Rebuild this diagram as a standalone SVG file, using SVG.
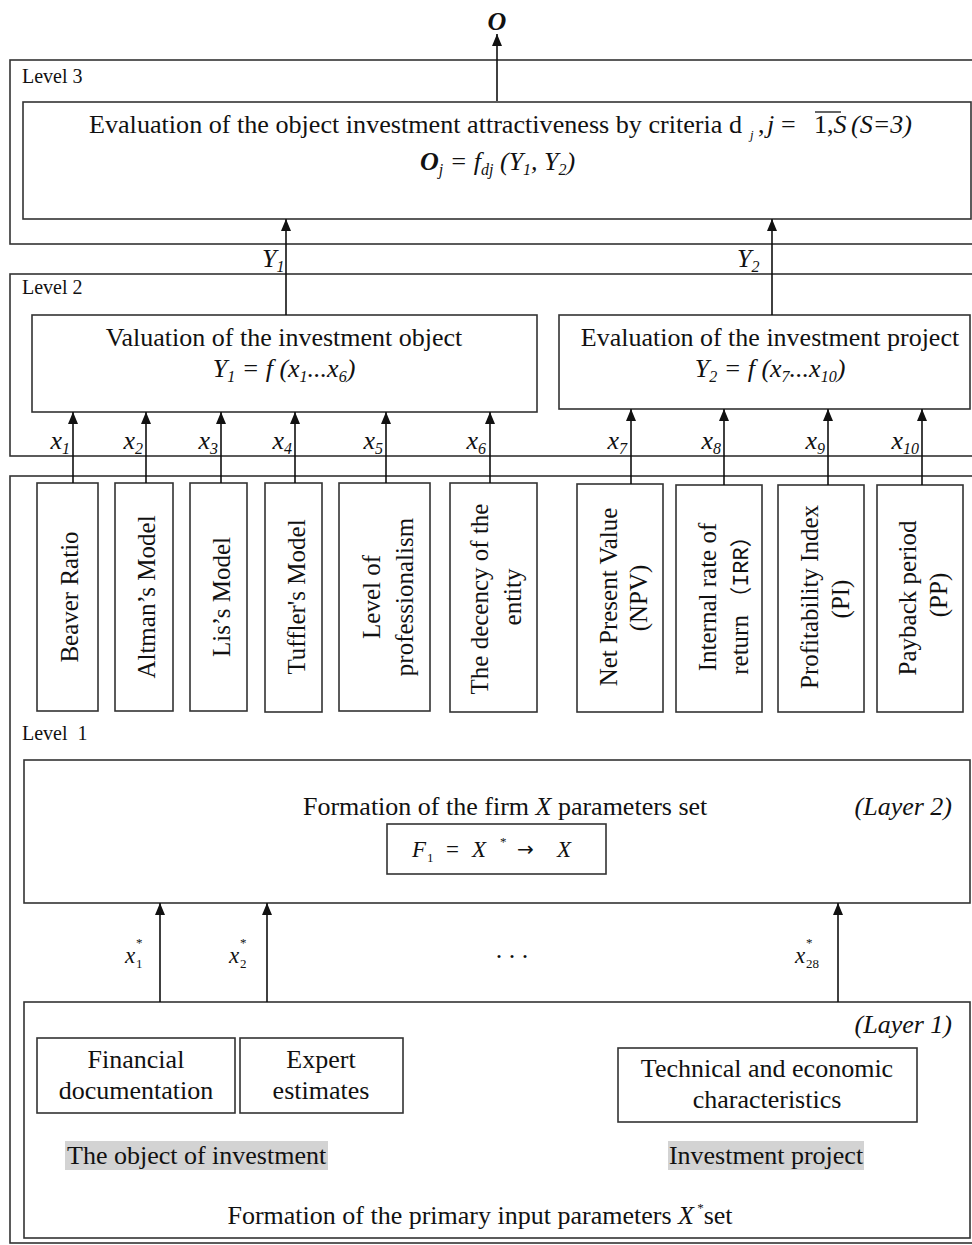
<svg xmlns="http://www.w3.org/2000/svg" width="972" height="1245" viewBox="0 0 972 1245">
<defs>
<marker id="ah" viewBox="0 0 12 10" refX="12" refY="5" markerWidth="12" markerHeight="10" markerUnits="userSpaceOnUse" orient="auto">
<path d="M0,0 L12,5 L0,10 z" fill="#111"/>
</marker>
<style>
.frame{fill:none;stroke:#333;stroke-width:1.6}
.box{fill:#fff;stroke:#333;stroke-width:1.6}
.t{font-family:"Liberation Serif","Times New Roman",serif;font-size:26px;fill:#111}
.i{font-style:italic}
.b{font-weight:bold}
.lv{font-size:20px}
.v{font-size:25px}
.s{font-size:16px}
.m{font-size:23px}
.sm{font-size:13px}
.arr{font-family:"DejaVu Sans",sans-serif;font-size:20px}
.hl{fill:#d3d3d3}
.conn line{stroke:#111;stroke-width:1.6;marker-end:url(#ah)}
</style>
</defs>
<rect width="972" height="1245" fill="#fff"/>

<!-- Level 3 -->
<g id="level3">
<rect class="frame" x="10" y="60" width="975" height="184"/>
<text class="t lv" x="22" y="83">Level 3</text>
</g>
<g id="eval-attractiveness">
<rect class="box" x="23" y="102" width="948" height="117"/>
<text class="t" x="89" y="133" textLength="653" lengthAdjust="spacingAndGlyphs">Evaluation of the object investment attractiveness by criteria d</text>
<text class="t i sm" x="750" y="139">j</text>
<text class="t" x="758" y="133">,</text>
<text class="t i" x="767" y="133">j</text>
<text class="t" x="781" y="133">=</text>
<text class="t" x="814" y="133">1,<tspan class="i">S</tspan></text>
<line x1="815" y1="112" x2="841" y2="112" stroke="#111" stroke-width="1.3"/>
<text class="t i" x="851" y="133">(S=3)</text>
<text class="t i" x="420" y="170"><tspan class="b">O</tspan><tspan class="s" dy="5">j</tspan><tspan dy="-5"> = f</tspan><tspan class="s" dy="5">dj</tspan><tspan dy="-5"> (Y</tspan><tspan class="s" dy="5">1</tspan><tspan dy="-5">,  Y</tspan><tspan class="s" dy="5">2</tspan><tspan dy="-5">)</tspan></text>
</g>
<text class="t i b" x="497" y="30" text-anchor="middle">O</text>
<text class="t i" x="262" y="267">Y<tspan class="s" dy="5">1</tspan></text>
<text class="t i" x="737" y="267">Y<tspan class="s" dy="5">2</tspan></text>

<!-- Level 2 -->
<g id="level2">
<rect class="frame" x="10" y="274" width="975" height="182"/>
<text class="t lv" x="22" y="294">Level 2</text>
</g>
<g id="valuation-object">
<rect class="box" x="32" y="315" width="505" height="97"/>
<text class="t" x="284" y="346" text-anchor="middle">Valuation of the investment object</text>
<text class="t i" x="284" y="377" text-anchor="middle">Y<tspan class="s" dy="5">1</tspan><tspan dy="-5"> = f (x</tspan><tspan class="s" dy="5">1</tspan><tspan dy="-5">...x</tspan><tspan class="s" dy="5">6</tspan><tspan dy="-5">)</tspan></text>
</g>
<g id="evaluation-project">
<rect class="box" x="559" y="315" width="411" height="94"/>
<text class="t" x="770" y="346" text-anchor="middle">Evaluation of the investment project</text>
<text class="t i" x="770" y="377" text-anchor="middle">Y<tspan class="s" dy="5">2</tspan><tspan dy="-5"> = f (x</tspan><tspan class="s" dy="5">7</tspan><tspan dy="-5">...x</tspan><tspan class="s" dy="5">10</tspan><tspan dy="-5">)</tspan></text>
</g>
<g id="x-labels">
<text class="t i" x="70" y="449" text-anchor="end">x<tspan class="s" dy="5">1</tspan></text>
<text class="t i" x="143" y="449" text-anchor="end">x<tspan class="s" dy="5">2</tspan></text>
<text class="t i" x="218" y="449" text-anchor="end">x<tspan class="s" dy="5">3</tspan></text>
<text class="t i" x="292" y="449" text-anchor="end">x<tspan class="s" dy="5">4</tspan></text>
<text class="t i" x="383" y="449" text-anchor="end">x<tspan class="s" dy="5">5</tspan></text>
<text class="t i" x="486" y="449" text-anchor="end">x<tspan class="s" dy="5">6</tspan></text>
<text class="t i" x="627" y="449" text-anchor="end">x<tspan class="s" dy="5">7</tspan></text>
<text class="t i" x="721" y="449" text-anchor="end">x<tspan class="s" dy="5">8</tspan></text>
<text class="t i" x="825" y="449" text-anchor="end">x<tspan class="s" dy="5">9</tspan></text>
<text class="t i" x="919" y="449" text-anchor="end">x<tspan class="s" dy="5">10</tspan></text>
</g>

<!-- Level 1 -->
<g id="level1">
<rect class="frame" x="10" y="476" width="975" height="767"/>
<text class="t lv" x="22" y="740" xml:space="preserve">Level  1</text>
</g>
<g id="beaver">
<rect class="box" x="37" y="483" width="61" height="228"/>
<text class="t v" transform="translate(78,597) rotate(-90)" text-anchor="middle">Beaver Ratio</text>
</g>
<g id="altman">
<rect class="box" x="115" y="483" width="58" height="228"/>
<text class="t v" transform="translate(155,597) rotate(-90)" text-anchor="middle">Altman’s Model</text>
</g>
<g id="lis">
<rect class="box" x="190" y="483" width="57" height="228"/>
<text class="t v" transform="translate(230,597) rotate(-90)" text-anchor="middle">Lis’s Model</text>
</g>
<g id="tuffler">
<rect class="box" x="265" y="483" width="57" height="229"/>
<text class="t v" transform="translate(305,597) rotate(-90)" text-anchor="middle">Tuffler's Model</text>
</g>
<g id="professionalism">
<rect class="box" x="339" y="483" width="91" height="228"/>
<text class="t v" transform="translate(380,597) rotate(-90)" text-anchor="middle">Level of</text>
<text class="t v" transform="translate(413,597) rotate(-90)" text-anchor="middle">professionalism</text>
</g>
<g id="decency">
<rect class="box" x="450" y="483" width="87" height="229"/>
<text class="t v" transform="translate(488,599) rotate(-90)" text-anchor="middle">The decency of the</text>
<text class="t v" transform="translate(521,597) rotate(-90)" text-anchor="middle">entity</text>
</g>
<g id="npv">
<rect class="box" x="577" y="484" width="86" height="228"/>
<text class="t v" transform="translate(617,597) rotate(-90)" text-anchor="middle">Net Present Value</text>
<text class="t v" transform="translate(647,598) rotate(-90)" text-anchor="middle">(NPV)</text>
</g>
<g id="irr">
<rect class="box" x="676" y="485" width="86" height="227"/>
<text class="t v" transform="translate(716,597) rotate(-90)" text-anchor="middle">Internal rate of</text>
<text class="t v" transform="translate(748,600) rotate(-90)" text-anchor="middle">return <tspan style="font-size:22px;font-family:'Liberation Mono','Noto Sans CJK SC',monospace">（IRR）</tspan></text>
</g>
<g id="pi">
<rect class="box" x="778" y="485" width="86" height="227"/>
<text class="t v" transform="translate(818,597) rotate(-90)" text-anchor="middle">Profitability Index</text>
<text class="t v" transform="translate(849,599) rotate(-90)" text-anchor="middle">(PI)</text>
</g>
<g id="pp">
<rect class="box" x="877" y="485" width="86" height="227"/>
<text class="t v" transform="translate(916,598) rotate(-90)" text-anchor="middle">Payback period</text>
<text class="t v" transform="translate(947,595) rotate(-90)" text-anchor="middle">(PP)</text>
</g>

<g id="layer2">
<rect class="box" x="24" y="760" width="946" height="143"/>
<text class="t" x="303" y="815">Formation of the firm <tspan class="i">X</tspan> parameters set</text>
<text class="t i" x="952" y="815" text-anchor="end">(Layer 2)</text>
<rect class="box" x="387" y="824" width="219" height="50"/>
<text class="t i m" x="412" y="857">F</text>
<text class="t sm" x="427" y="862">1</text>
<text class="t m" x="446" y="857">=</text>
<text class="t i m" x="472" y="857">X</text>
<text class="t sm" x="500" y="846">*</text>
<text class="t arr" x="517" y="856">→</text>
<text class="t i m" x="557" y="857">X</text>
</g>
<g id="xstar-labels">
<text class="t i m" x="125" y="963">x</text><text class="t sm" x="136" y="947">*</text><text class="t sm" x="136" y="968">1</text>
<text class="t i m" x="229" y="963">x</text><text class="t sm" x="240" y="947">*</text><text class="t sm" x="240" y="968">2</text>
<text class="t" x="512" y="958" text-anchor="middle">. . .</text>
<text class="t i m" x="795" y="963">x</text><text class="t sm" x="806" y="947">*</text><text class="t sm" x="806" y="968">28</text>
</g>

<g id="layer1">
<rect class="box" x="24" y="1002" width="946" height="236"/>
<text class="t i" x="952" y="1033" text-anchor="end">(Layer 1)</text>
<rect class="hl" x="65" y="1141" width="263" height="29"/>
<text class="t" x="67" y="1164">The object of investment</text>
<rect class="hl" x="668" y="1141" width="196" height="29"/>
<text class="t" x="766" y="1164" text-anchor="middle">Investment project</text>
<text class="t" x="480" y="1224" text-anchor="middle">Formation of the primary input parameters <tspan class="i">X</tspan><tspan class="sm" dy="-12"> *</tspan><tspan dy="12">set</tspan></text>
</g>
<g id="financial-doc">
<rect class="box" x="37" y="1038" width="198" height="75"/>
<text class="t" x="136" y="1068" text-anchor="middle">Financial</text>
<text class="t" x="136" y="1099" text-anchor="middle">documentation</text>
</g>
<g id="expert">
<rect class="box" x="240" y="1038" width="163" height="75"/>
<text class="t" x="321" y="1068" text-anchor="middle">Expert</text>
<text class="t" x="321" y="1099" text-anchor="middle">estimates</text>
</g>
<g id="technical">
<rect class="box" x="618" y="1048" width="299" height="74"/>
<text class="t" x="767" y="1077" text-anchor="middle">Technical and economic</text>
<text class="t" x="767" y="1108" text-anchor="middle">characteristics</text>
</g>

<g id="connectors" class="conn">
<line x1="497" y1="101" x2="497" y2="34"/>
<line x1="286" y1="315" x2="286" y2="219"/>
<line x1="772" y1="315" x2="772" y2="219"/>
<line x1="73" y1="483" x2="73" y2="412"/>
<line x1="146" y1="483" x2="146" y2="412"/>
<line x1="221" y1="483" x2="221" y2="412"/>
<line x1="295" y1="483" x2="295" y2="412"/>
<line x1="386" y1="483" x2="386" y2="412"/>
<line x1="490" y1="483" x2="490" y2="412"/>
<line x1="631" y1="484" x2="631" y2="409"/>
<line x1="724" y1="485" x2="724" y2="409"/>
<line x1="828" y1="485" x2="828" y2="409"/>
<line x1="922" y1="485" x2="922" y2="409"/>
<line x1="160" y1="1002" x2="160" y2="903"/>
<line x1="267" y1="1002" x2="267" y2="903"/>
<line x1="838" y1="1002" x2="838" y2="903"/>
</g>
</svg>
